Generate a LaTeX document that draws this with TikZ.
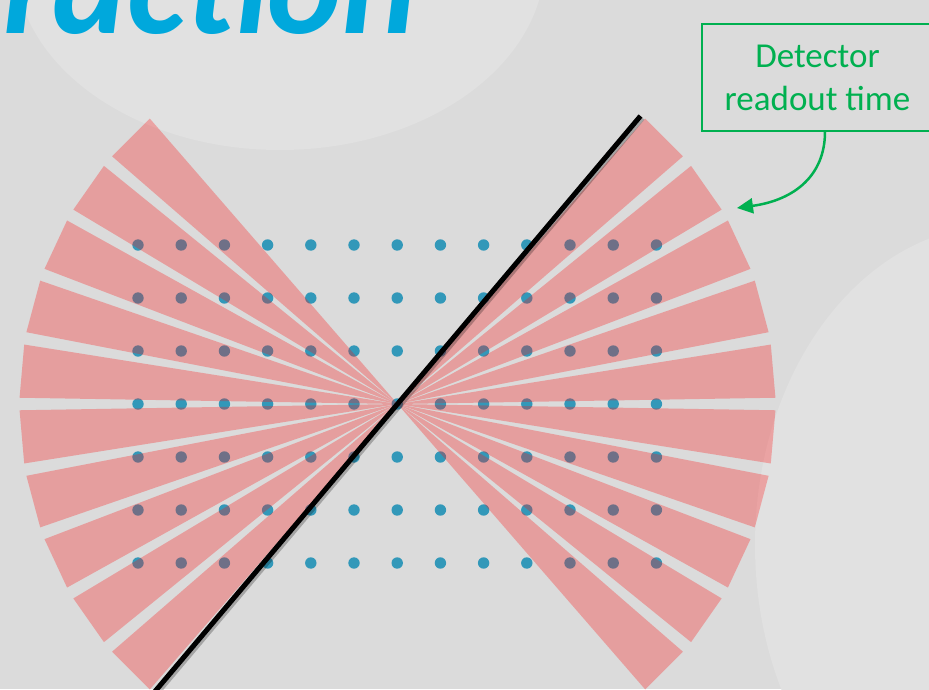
\documentclass[tikz,border=0pt]{standalone}
\usepackage{fontspec}
\setmainfont{Carlito}
\usetikzlibrary{arrows.meta}
\definecolor{bgc}{RGB}{219,219,219}
\definecolor{bglight}{RGB}{225,225,225}
\definecolor{titleblue}{RGB}{0,168,220}
\definecolor{boxgreen}{RGB}{0,176,80}
\definecolor{dotblue}{RGB}{50,152,185}
\definecolor{wedgered}{RGB}{255,20,20}
\begin{document}
\begin{tikzpicture}[x=1pt,y=-1pt,
  wedge/.style={fill=wedgered, fill opacity=0.3},
  gdot/.style={fill=dotblue},
  beam/.style={line width=5pt, black},
  beamshadow/.style={line width=5pt, black, opacity=0.25},
  labelbox/.style={draw=boxgreen, line width=1.5pt, text=boxgreen,
    font=\fontsize{35}{43}\selectfont, align=center,
    minimum width=231pt, minimum height=107pt, inner sep=0pt},
  pointer/.style={boxgreen, line width=2.5pt, -{Triangle[length=16pt,width=15pt]}}]
\useasboundingbox (0,0) rectangle (929,689);
\clip (0,0) rectangle (929,689);
\fill[bgc] (0,0) rectangle (929,689);
\fill[bglight] (280,-40) ellipse [x radius=265, y radius=190];
\fill[bglight] (1000,545) ellipse [x radius=245, y radius=320];
% title fragment
\node[anchor=base west, inner sep=0pt, text=titleblue,
  font=\fontsize{141}{141}\selectfont\bfseries\itshape] (title) at (3,33) {raction};
% grid of dots
\foreach \i in {0,...,12}
  \foreach \j in {0,...,6}
    \fill[gdot] (138+43.2*\i, 245+53*\j) circle[radius=5.7];
% fan of wedges
\coordinate (O) at (397.5,404);
\foreach \c in {-45,-35,...,45} {
  \fill[wedge, shift={(O)}] (0,0) -- (\c-4.05:378) -- (\c+4.05:378) -- cycle;
  \fill[wedge, shift={(O)}] (0,0) -- (180+\c-4.05:378) -- (180+\c+4.05:378) -- cycle;
}
% black line
\coordinate (L1) at (640.5,116);
\coordinate (L2) at (154.5,692);
\draw[beamshadow, transform canvas={shift={(2pt,-2pt)}}] (L1) -- (L2);
\draw[beam] (L1) -- (L2);
% label box and arrow
\node[labelbox] (box) at (817.5,77.5) {Detector\\readout time};
\coordinate (tip) at (737,208);
\draw[pointer] ([xshift=7.5pt]box.south) .. controls (825,175) and (795,200) .. (tip);
\end{tikzpicture}
\end{document}
